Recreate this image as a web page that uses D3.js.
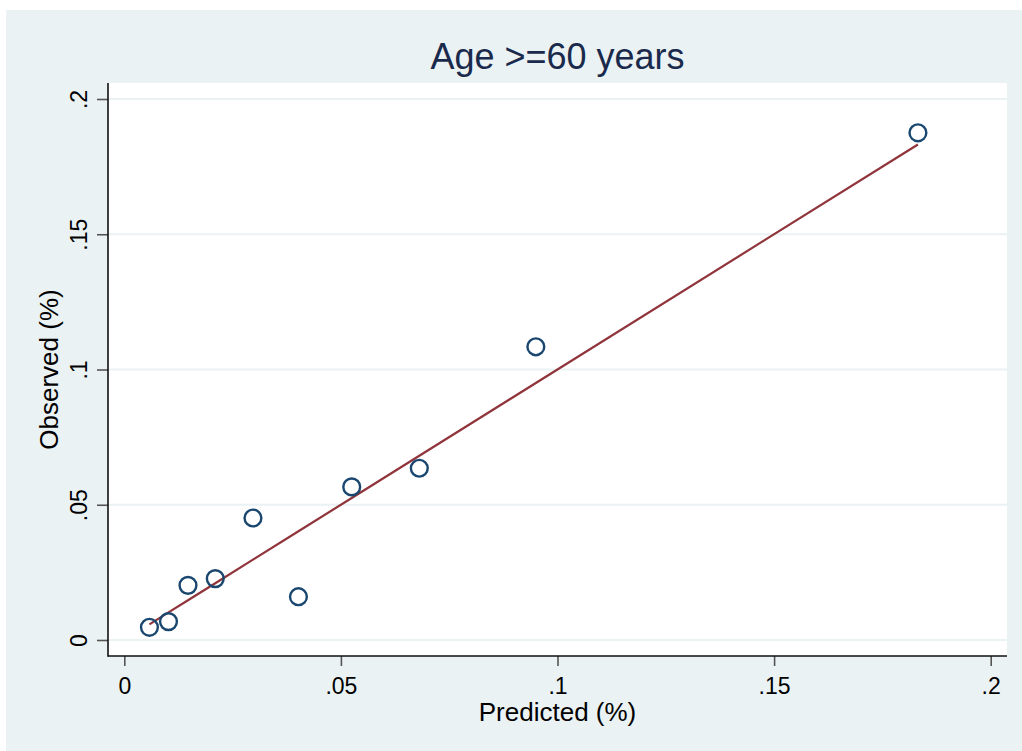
<!DOCTYPE html>
<html>
<head>
<meta charset="utf-8">
<script src="https://cdn.jsdelivr.net/npm/d3@7"></script>
<style>
  html, body { margin: 0; padding: 0; background: #ffffff; }
  svg { display: block; font-family: "Liberation Sans", Arial, sans-serif; }
</style>
</head>
<body>
<svg id="chart" width="1022" height="751"></svg>
<script>
// Calibration data: predicted vs observed risk by group, age >= 60
const predicted = [0.0058, 0.0102, 0.0147, 0.0210, 0.0297, 0.0402, 0.0525, 0.0681, 0.0950, 0.1832];
const observed  = [0.0047, 0.0068, 0.0202, 0.0227, 0.0451, 0.0160, 0.0566, 0.0635, 0.1084, 0.1875];
const xTicks = [0, 0.05, 0.1, 0.15, 0.2];
const yTicks = [0, 0.05, 0.1, 0.15, 0.2];
const tickLabel = v => v === 0 ? "0" : String(v).replace(/^0/, "");

const titleText = "Age >=60 years";
const xTitle = "Predicted (%)";
const yTitle = "Observed (%)";

const W = 1022, H = 751;
const plot = { left: 108, top: 83, right: 1007, bottom: 656 };

const svg = d3.select("#chart");

// graph region background
svg.append("rect")
  .attr("x", 6).attr("y", 10)
  .attr("width", W - 6).attr("height", H - 10)
  .attr("fill", "#eaf2f3");

// plot region
svg.append("rect")
  .attr("x", plot.left).attr("y", plot.top)
  .attr("width", plot.right - plot.left).attr("height", plot.bottom - plot.top)
  .attr("fill", "#ffffff");

const x = d3.scaleLinear().domain([0, 0.2]).range([124.3, 990.7]);
const y = d3.scaleLinear().domain([0, 0.2]).range([640, 99]);

// horizontal gridlines
svg.append("g").selectAll("line").data(yTicks).join("line")
  .attr("x1", plot.left).attr("x2", plot.right)
  .attr("y1", d => y(d)).attr("y2", d => y(d))
  .attr("stroke", "#eaf2f3").attr("stroke-width", 2);

// y axis
const yAxis = svg.append("g")
  .attr("transform", `translate(${plot.left},0)`)
  .call(d3.axisLeft(y).tickValues(yTicks).tickFormat(tickLabel).tickSize(11).tickPadding(10));
yAxis.select(".domain").remove();
yAxis.selectAll(".tick line").attr("stroke", "#555555").attr("stroke-width", 1.6);
yAxis.selectAll(".tick text")
  .attr("font-size", 23).attr("fill", "#000")
  .attr("text-anchor", "middle")
  .attr("x", null).attr("dy", null)
  .attr("transform", "translate(-21,0) rotate(-90)");

// x axis
const xAxis = svg.append("g")
  .attr("transform", `translate(0,${plot.bottom})`)
  .call(d3.axisBottom(x).tickValues(xTicks).tickFormat(tickLabel).tickSize(10).tickPadding(12));
xAxis.select(".domain").remove();
xAxis.selectAll(".tick line").attr("stroke", "#555555").attr("stroke-width", 1.6);
xAxis.selectAll(".tick text").attr("font-size", 23).attr("fill", "#000");

// axis lines
svg.append("line")
  .attr("x1", plot.left).attr("x2", plot.left)
  .attr("y1", plot.top).attr("y2", plot.bottom + 0.8)
  .attr("stroke", "#111").attr("stroke-width", 1.6);
svg.append("line")
  .attr("x1", plot.left).attr("x2", plot.right)
  .attr("y1", plot.bottom).attr("y2", plot.bottom)
  .attr("stroke", "#111").attr("stroke-width", 1.6);

// reference line (predicted against itself)
const linePts = predicted.map(p => [p, p]).sort((a, b) => a[0] - b[0]);
svg.append("path")
  .datum(linePts)
  .attr("d", d3.line().x(d => x(d[0])).y(d => y(d[1])))
  .attr("fill", "none")
  .attr("stroke", "#90353b")
  .attr("stroke-width", 2.2);

// observed markers
svg.append("g").selectAll("circle").data(predicted.map((p, i) => [p, observed[i]])).join("circle")
  .attr("cx", d => x(d[0])).attr("cy", d => y(d[1]))
  .attr("r", 8.4)
  .attr("fill", "none")
  .attr("stroke", "#1a476f")
  .attr("stroke-width", 2.4);

// titles
svg.append("text")
  .attr("x", (plot.left + plot.right) / 2).attr("y", 69)
  .attr("text-anchor", "middle")
  .attr("font-size", 36).attr("fill", "#1a2a4c")
  .text(titleText);

svg.append("text")
  .attr("x", (plot.left + plot.right) / 2).attr("y", 721)
  .attr("text-anchor", "middle")
  .attr("font-size", 26).attr("fill", "#000")
  .text(xTitle);

svg.append("text")
  .attr("transform", `translate(58,${(plot.top + plot.bottom) / 2}) rotate(-90)`)
  .attr("text-anchor", "middle")
  .attr("font-size", 26).attr("fill", "#000")
  .text(yTitle);
</script>
</body>
</html>
